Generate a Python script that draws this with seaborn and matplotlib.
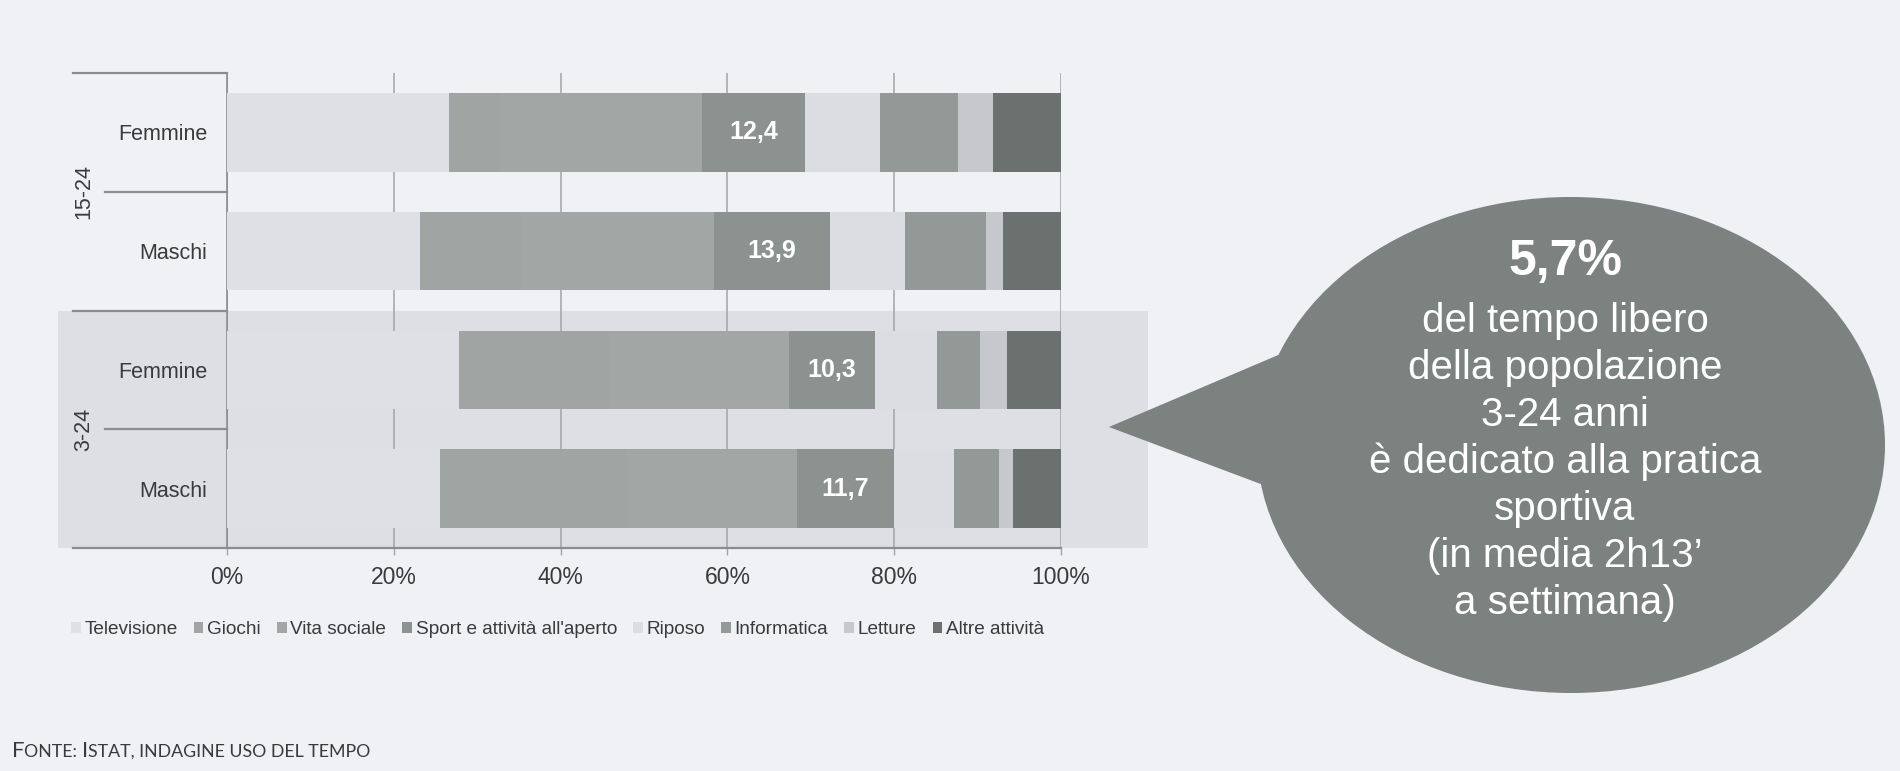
import numpy as np
import pandas as pd
import matplotlib
matplotlib.use("Agg")
import matplotlib.pyplot as plt
import matplotlib.transforms as mtrans
from matplotlib.patches import Ellipse, Polygon, Rectangle
import seaborn as sns

# ---------------- data ----------------
rows = ["F 15-24", "M 15-24", "F 3-24", "M 3-24"]
row_labels = ["Femmine", "Maschi", "Femmine", "Maschi"]
groups = ["15-24", "3-24"]
categories = ["Televisione", "Giochi", "Vita sociale", "Sport e attività all'aperto",
              "Riposo", "Informatica", "Letture", "Altre attività"]
televisione = [26.6, 23.2, 27.8, 25.5]
giochi = [6.0, 12.0, 18.0, 22.5]
vita_sociale = [24.3, 23.2, 21.6, 20.3]
sport = [12.4, 13.9, 10.3, 11.7]
riposo = [9.0, 9.0, 7.4, 7.2]
informatica = [9.3, 9.7, 5.2, 5.4]
letture = [4.2, 2.1, 3.2, 1.7]
altre = [8.2, 6.9, 6.5, 5.7]
sport_labels = ["12,4", "13,9", "10,3", "11,7"]
x_ticks = [0, 20, 40, 60, 80, 100]
x_tick_labels = ["0%", "20%", "40%", "60%", "80%", "100%"]
bubble_title = "5,7%"
bubble_lines = ["del tempo libero", "della popolazione", "3-24 anni",
                "è dedicato alla pratica", "sportiva", "(in media 2h13’", "a settimana)"]
source_parts = [("F", True), ("ONTE: ", False), ("I", True), ("STAT, INDAGINE USO DEL TEMPO", False)]

colors = ["#DFE0E6", "#A0A4A3", "#A2A6A5", "#8C9290",
          "#DCDDE3", "#939996", "#C6C8CC", "#6A716E"]
BG = "#F0F1F5"
BAND = "#DEDFE5"
GRID = "#A2A4A6"
AXLINE = "#8A8C8E"
TXT = "#3A3A3A"

arial = ["Liberation Sans", "DejaVu Sans"]

values = np.array([televisione, giochi, vita_sociale, sport,
                   riposo, informatica, letture, altre])
cum = np.cumsum(values, axis=0)

W, H = 1900, 771
fig = plt.figure(figsize=(W / 100, H / 100), dpi=100, facecolor=BG)

# main axes: x from 0% (227 px) to 100% (1061 px), y from 73 to 548 px
ax = fig.add_axes([227 / W, 1 - 548 / H, 834 / W, 475 / H], zorder=1)
ax.patch.set_alpha(0)

blend = mtrans.blended_transform_factory(ax.transAxes, ax.transData)

# shaded band for 3-24 group
ax.add_patch(Rectangle((-0.2026, 1.5), 1.1043 + 0.2026, 2.0, transform=blend,
                       facecolor=BAND, edgecolor="none", clip_on=False, zorder=0))

handles = {}
for k in range(len(categories) - 1, -1, -1):
    sns.barplot(x=cum[k], y=rows, order=rows, orient="h", color=colors[k],
                saturation=1, width=0.66, ax=ax, zorder=3, linewidth=0)
    handles[categories[k]] = ax.containers[-1]

for i, lab in enumerate(sport_labels):
    cx = cum[2][i] + sport[i] / 2
    ax.text(cx, i, lab, ha="center", va="center", color="white",
            fontsize=18, fontweight="bold", family=arial, zorder=5)

ax.set_xlim(0, 100)
ax.set_ylim(3.5, -0.5)
ax.set_xlabel("")
ax.set_ylabel("")
ax.set_xticks(x_ticks)
ax.set_xticklabels(x_tick_labels, family=arial, fontsize=16.5, color=TXT)
ax.set_yticks(range(len(rows)))
ax.set_yticklabels(row_labels, family=arial, fontsize=15.5, color=TXT)
ax.tick_params(axis="y", length=0, pad=14)
ax.tick_params(axis="x", length=5, color=GRID, width=1, pad=8)
ax.set_axisbelow(True)
ax.grid(axis="x", color=GRID, linewidth=1.1, zorder=1)
ax.grid(axis="y", visible=False)
for s in ["top", "right", "bottom"]:
    ax.spines[s].set_visible(False)
ax.spines["left"].set_color(AXLINE)
ax.spines["left"].set_linewidth(1.2)

# category-axis separator lines (Excel multi-level axis)
for yv, x0 in [(-0.5, -0.1847), (0.5, -0.146), (1.5, -0.1847), (2.5, -0.146)]:
    ax.plot([x0, 0], [yv, yv], transform=blend, color=AXLINE, lw=1.6,
            clip_on=False, zorder=4)
ax.plot([-0.1847, 1.0], [3.5, 3.5], transform=blend, color=AXLINE, lw=1.6,
        clip_on=False, zorder=4)

for gi, g in enumerate(groups):
    ax.text(-0.172, 0.5 + 2 * gi, g, transform=blend, rotation=90,
            ha="center", va="center", family=arial, fontsize=15.5, color=TXT)

# legend
leg = fig.legend([handles[c] for c in categories], categories,
                 loc="center left", bbox_to_anchor=(54 / W, 1 - 630 / H),
                 ncol=8, frameon=False, handlelength=0.5, handleheight=0.5,
                 handletextpad=0.2, columnspacing=0.85,
                 prop={"family": arial, "size": 13.7})
for t in leg.get_texts():
    t.set_color(TXT)

# overlay for speech bubble and source
ov = fig.add_axes([0, 0, 1, 1], zorder=5)
ov.set_xlim(0, W)
ov.set_ylim(H, 0)
ov.axis("off")
ov.patch.set_alpha(0)

BUB = "#7C8280"
ov.add_patch(Polygon([(1109, 427), (1290, 350), (1290, 495)], closed=True,
                     facecolor=BUB, edgecolor="none"))
ov.add_patch(Ellipse((1571, 445), 628, 496, facecolor=BUB, edgecolor="none"))
ov.text(1565, 262, bubble_title, ha="center", va="center", color="white",
        fontsize=36, fontweight="bold", family=arial)
for j, line in enumerate(bubble_lines):
    ov.text(1565, 321 + j * 47, line, ha="center", va="center", color="white",
            fontsize=29, family=arial)

# source in small caps
renderer = fig.canvas.get_renderer()
xcur = 12
for txt, big in source_parts:
    t = ov.text(xcur, 757, txt, ha="left", va="baseline", color=TXT,
                fontsize=16 if big else 12.8, family=["Lato", "DejaVu Sans"])
    bb = t.get_window_extent(renderer=renderer)
    xcur += bb.width

fig.savefig("out.png", dpi=100, facecolor=BG)
